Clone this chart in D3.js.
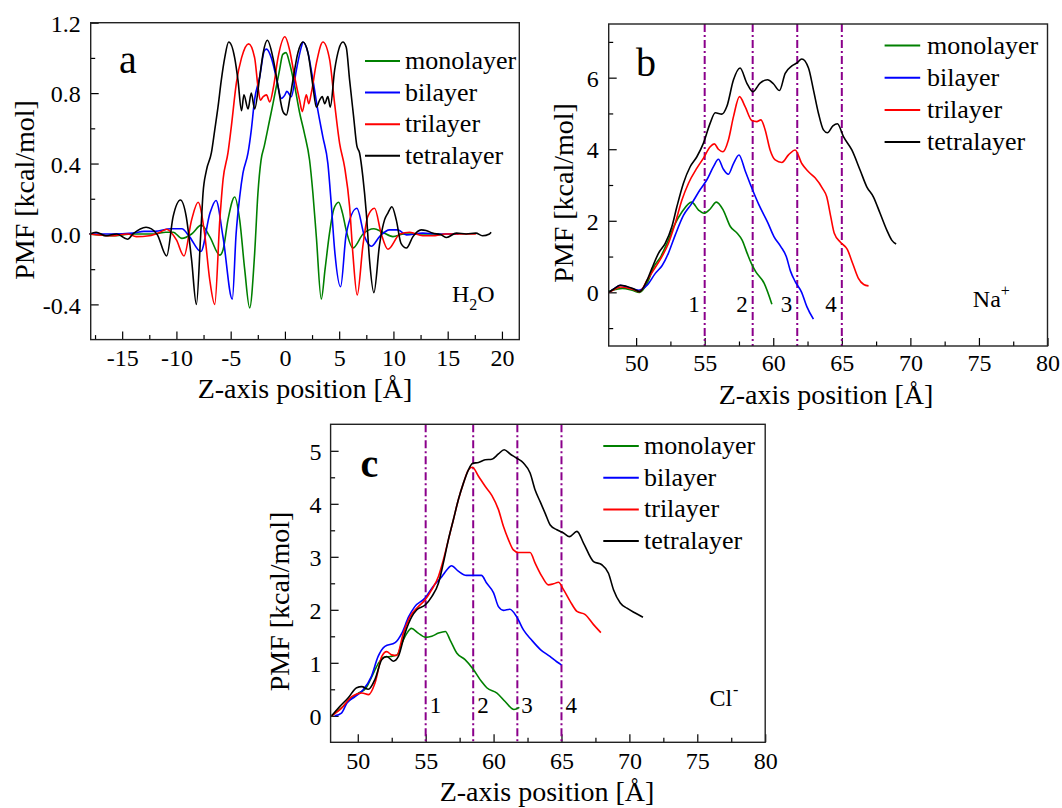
<!DOCTYPE html>
<html><head><meta charset="utf-8">
<script src="https://cdn.jsdelivr.net/npm/d3@7"></script>
<style>
body{margin:0;background:#fff}
svg{display:block}
text{font-family:"Liberation Serif","Times New Roman",serif;fill:#000}
</style>
</head><body>
<svg id="chart" width="1062" height="808"></svg>
<script>
const seriesNames = ["monolayer","bilayer","trilayer","tetralayer"];
const seriesColors = ["#008000","#0000ff","#ff0000","#000000"];

// ---- panel a : H2O ----
const h2oMono = [[-18,0],[-16,-0.01],[-14,0.0],[-12,0.0],[-11,0.01],[-10.3,0.01],[-9.5,-0.025],[-8.6,0.0],[-7.7,0.05],[-6.93,-0.015],[-6.0,-0.12],[-5.7,-0.09],[-5.25,0.08],[-4.63,0.21],[-4.17,0.08],[-3.71,-0.2],[-3.25,-0.42],[-2.79,-0.11],[-2.49,0.23],[-2.2,0.42],[-1.9,0.5],[-1.4,0.65],[-1.1,0.74],[-0.5,0.93],[-0.2,1.02],[0.1,1.03],[0.43,0.97],[0.9,0.84],[1.35,0.69],[1.8,0.57],[2.27,0.42],[2.58,0.23],[2.9,-0.02],[3.35,-0.37],[3.7,-0.2],[4.1,0.0],[4.5,0.14],[4.95,0.18],[5.3,0.12],[5.65,0.02],[6.26,-0.08],[7.2,0.0],[8.2,0.03],[9.0,0.01],[9.95,-0.015],[11,0.0],[12,0.0],[13,0.0],[14.2,0.0]];
const h2oBi = [[-18,0],[-16,0.0],[-14,0.005],[-13,0.015],[-12,0.015],[-10.5,0.03],[-9.5,0.03],[-8.8,-0.015],[-7.75,-0.10],[-6.9,0.12],[-6.35,0.19],[-5.7,-0.02],[-4.85,-0.37],[-4.5,0.0],[-4.17,0.21],[-3.87,0.345],[-3.4,0.46],[-3.1,0.59],[-2.8,0.76],[-2.33,0.89],[-1.9,1.04],[-1.7,1.05],[-1.25,1.0],[-0.8,0.89],[-0.33,0.77],[0,0.79],[0.18,0.81],[0.59,0.78],[1.05,0.93],[1.5,1.06],[1.66,1.09],[2.12,1.03],[2.58,0.875],[3.04,0.70],[3.5,0.55],[3.96,0.40],[4.27,0.17],[4.58,-0.09],[5.13,-0.30],[5.65,0.0],[6.63,0.146],[7.34,-0.015],[7.96,-0.07],[8.72,-0.015],[9.64,0.023],[10.4,0.023],[11.2,-0.005],[12.7,0.005],[14,0.0],[16,0.0]];
const h2oTri = [[-18,0],[-16,-0.01],[-14.5,0.0],[-13.7,-0.015],[-12.5,-0.01],[-11.5,0.01],[-10.9,0.027],[-10,-0.034],[-9.3,-0.125],[-8.6,0.08],[-8.0,0.18],[-7.4,0.0],[-6.93,-0.26],[-6.47,-0.40],[-6.0,0.08],[-5.7,0.31],[-5.25,0.46],[-4.94,0.61],[-4.47,0.86],[-4.0,1.0],[-3.34,1.08],[-2.79,1.0],[-2.49,0.84],[-2.27,0.76],[-2.0,0.78],[-1.7,0.79],[-1.4,0.75],[-1.04,0.84],[-0.64,1.0],[0,1.12],[0.43,1.045],[0.9,0.89],[1.35,0.76],[1.6,0.695],[1.97,0.79],[2.2,0.74],[2.43,0.80],[2.9,0.97],[3.5,1.09],[4.12,0.99],[4.58,0.74],[5.04,0.515],[5.5,0.38],[5.96,0.155],[6.26,-0.11],[6.66,-0.347],[7.2,-0.06],[7.64,0.1],[8.26,0.146],[8.88,0.0],[9.49,-0.087],[10.6,0.0],[11.5,0.01],[12.7,-0.01],[13.6,-0.01],[14.8,0.0],[16,0.0],[17.6,0.0]];
const h2oTetra = [[-18,0],[-17.4,0.01],[-16.5,-0.01],[-15.5,0.0],[-14.5,-0.03],[-14.0,0.0],[-12.8,0.038],[-11.8,0.0],[-10.9,-0.125],[-10.3,0.1],[-9.63,0.193],[-9.1,0.1],[-8.6,-0.148],[-8.16,-0.40],[-7.76,0.0],[-7.55,0.23],[-7.24,0.36],[-6.78,0.46],[-6.47,0.59],[-6.17,0.72],[-5.86,0.875],[-5.55,1.0],[-5.18,1.09],[-4.63,1.0],[-4.33,0.875],[-4.0,0.70],[-3.78,0.79],[-3.4,0.71],[-3.1,0.80],[-2.79,0.71],[-2.33,0.89],[-2.0,1.03],[-1.62,1.10],[-1.1,1.0],[-0.64,0.84],[-0.18,0.695],[0.13,0.676],[0.43,0.76],[0.74,0.875],[1.2,1.03],[1.66,1.09],[2.12,1.03],[2.58,0.84],[2.9,0.72],[3.2,0.76],[3.44,0.78],[3.66,0.74],[3.96,0.78],[4.18,0.72],[4.58,0.93],[4.97,1.05],[5.34,1.09],[5.65,1.06],[5.96,0.875],[6.33,0.667],[6.63,0.50],[6.88,0.46],[7.18,0.326],[7.5,0.12],[7.8,-0.15],[8.2,-0.333],[8.72,-0.06],[9.18,0.08],[9.5,0.12],[9.86,0.155],[10.26,0.08],[10.7,-0.053],[11.2,-0.08],[11.8,-0.015],[12.56,0.023],[13.0,0.02],[13.6,0.005],[14.4,-0.005],[14.9,-0.02],[15.8,0.005],[16.7,0.0],[17.6,0.005],[18.2,-0.01],[18.85,0.0],[19.0,0.01]];

// ---- panel b : Na+ ----
const naMono = [[48,0.03],[48.5,0.08],[49,0.11],[49.7,0.06],[50.25,0.0],[50.8,0.25],[51.3,0.72],[51.8,1.0],[52.25,1.37],[52.75,1.84],[53.35,2.25],[54.05,2.52],[54.55,2.3],[54.95,2.21],[55.4,2.33],[55.85,2.52],[56.35,2.3],[56.87,1.84],[57.37,1.65],[57.73,1.46],[58.1,1.09],[58.4,0.81],[58.72,0.58],[59.34,0.25],[59.9,-0.33]];
const naBi = [[48,0.0],[48.4,0.1],[48.85,0.2],[49.55,0.12],[50.2,0.06],[50.8,0.2],[51.4,0.53],[51.9,0.75],[52.35,1.09],[52.85,1.6],[53.45,2.15],[54.05,2.48],[54.65,2.86],[55.15,3.14],[55.65,3.52],[56.0,3.72],[56.35,3.45],[56.72,3.3],[57.1,3.6],[57.5,3.84],[57.95,3.4],[58.4,2.95],[58.95,2.45],[59.6,1.95],[60.05,1.56],[60.55,1.28],[60.95,1.0],[61.25,0.6],[61.6,0.3],[62.07,0.0],[62.45,-0.4],[62.93,-0.75]];
const naTri = [[48,0.0],[48.4,0.08],[48.85,0.15],[49.8,0.08],[50.25,0.02],[50.8,0.34],[51.27,0.62],[51.88,1.0],[52.36,1.37],[52.85,1.93],[53.34,2.58],[53.82,3.05],[54.43,3.47],[54.91,3.75],[55.4,4.07],[55.7,4.15],[56.0,4.0],[56.33,3.93],[56.73,4.26],[57.1,4.91],[57.54,5.47],[57.95,5.19],[58.44,4.8],[58.8,4.77],[59.1,4.82],[59.41,4.54],[59.77,3.98],[60.14,3.7],[60.63,3.63],[61.11,3.84],[61.6,3.98],[62.08,3.6],[62.57,3.37],[63.05,3.2],[63.6,2.9],[63.9,2.67],[64.2,2.1],[64.45,1.65],[64.9,1.4],[65.4,1.2],[65.8,0.8],[66.2,0.4],[66.6,0.22],[66.95,0.18]];
const naTetra = [[48,0.0],[48.4,0.1],[48.85,0.2],[49.8,0.1],[50.25,0.02],[50.8,0.34],[51.15,0.67],[51.63,1.09],[52.12,1.37],[52.61,1.84],[52.97,2.39],[53.45,3.05],[53.94,3.51],[54.43,3.79],[54.91,4.17],[55.4,4.73],[55.77,5.02],[56.25,4.98],[56.62,5.2],[57.1,5.94],[57.58,6.27],[58.07,5.85],[58.51,5.61],[59.04,5.85],[59.58,5.94],[60.01,5.83],[60.45,5.64],[60.87,6.12],[61.36,6.33],[61.72,6.41],[62.08,6.52],[62.57,6.27],[62.93,5.66],[63.3,5.0],[63.66,4.54],[63.95,4.46],[64.35,4.65],[64.68,4.71],[65.12,4.35],[65.73,3.98],[66.33,3.42],[66.82,2.95],[67.3,2.67],[67.79,2.21],[68.28,1.74],[68.64,1.46],[68.96,1.35]];

// ---- panel c : Cl- ----
const clMono = [[48.05,0],[48.8,0.15],[49.4,0.3],[50.0,0.42],[50.6,0.52],[51.0,0.72],[51.5,0.98],[51.9,1.1],[52.4,1.12],[52.9,1.15],[53.25,1.37],[53.6,1.55],[53.95,1.65],[54.45,1.56],[55.0,1.48],[55.45,1.5],[55.95,1.56],[56.45,1.59],[56.8,1.43],[57.3,1.18],[57.9,1.06],[58.5,0.88],[59.1,0.65],[59.5,0.53],[60.25,0.43],[60.85,0.27],[61.5,0.12],[61.9,0.16]];
const clBi = [[48.3,0.0],[48.8,0.05],[49.2,0.24],[49.8,0.36],[50.4,0.49],[51.0,0.74],[51.5,1.12],[52.0,1.31],[52.75,1.38],[53.25,1.56],[53.75,1.87],[54.2,2.06],[54.95,2.22],[55.55,2.44],[56.2,2.63],[56.55,2.75],[56.9,2.83],[57.4,2.73],[58.0,2.65],[59.1,2.65],[59.5,2.5],[60.0,2.32],[60.36,2.06],[60.73,1.99],[61.2,2.01],[61.7,1.87],[62.2,1.62],[62.8,1.43],[63.45,1.25],[64.15,1.12],[64.65,1.02],[65.0,0.96]];
const clTri = [[48.08,0],[48.8,0.145],[49.55,0.36],[50.3,0.43],[50.8,0.40],[51.27,0.62],[51.77,1.12],[52.13,1.21],[52.5,1.15],[52.87,1.14],[53.36,1.56],[53.85,1.87],[54.46,2.06],[54.96,2.19],[55.45,2.38],[55.94,2.63],[56.3,2.94],[56.67,3.32],[57.04,3.7],[57.41,4.08],[57.78,4.39],[58.15,4.64],[58.44,4.69],[58.89,4.52],[59.38,4.33],[59.87,4.16],[60.36,3.89],[60.73,3.57],[61.1,3.32],[61.46,3.13],[61.83,3.08],[62.69,3.08],[63.06,2.88],[63.56,2.63],[64.04,2.47],[64.41,2.49],[64.78,2.52],[65.15,2.38],[65.64,2.16],[66.14,1.97],[66.75,1.91],[67.36,1.72],[67.9,1.57]];
const clTetra = [[48.08,0],[48.69,0.18],[49.3,0.34],[49.92,0.53],[50.29,0.55],[50.78,0.50],[51.27,0.69],[51.77,1.06],[52.13,1.12],[52.62,1.03],[52.99,1.12],[53.48,1.56],[53.98,1.87],[54.35,2.0],[54.96,2.09],[55.45,2.25],[55.94,2.5],[56.3,2.88],[56.67,3.32],[57.04,3.7],[57.41,4.08],[57.78,4.39],[58.15,4.64],[58.44,4.76],[58.89,4.78],[59.38,4.83],[59.87,4.84],[60.36,4.94],[60.78,5.02],[61.22,4.94],[61.71,4.86],[62.2,4.77],[62.69,4.58],[63.06,4.26],[63.43,4.04],[63.8,3.82],[64.17,3.6],[64.66,3.51],[65.15,3.45],[65.59,3.38],[66.14,3.48],[66.62,3.26],[67.36,2.91],[67.97,2.85],[68.46,2.69],[68.83,2.38],[69.33,2.13],[69.82,2.03],[70.43,1.94],[71.0,1.86]];

const layerLines = [55, 58.5, 61.75, 65];
const layerLabels = ["1","2","3","4"];

const aXTicks = [-15,-10,-5,0,5,10,15,20];
const aXMinor = [-17.5,-12.5,-7.5,-2.5,2.5,7.5,12.5,17.5];
const aYTicks = [-0.4,0.0,0.4,0.8,1.2];
const aYMinor = [-0.6,-0.2,0.2,0.6,1.0];
const bcXTicks = [50,55,60,65,70,75,80];
const bcXMinor = [52.5,57.5,62.5,67.5,72.5,77.5];
const bYTicks = [0,2,4,6];
const bYMinor = [-1,1,3,5,7];
const cYTicks = [0,1,2,3,4,5];
const cYMinor = [-0.5,0.5,1.5,2.5,3.5,4.5,5.5];

const xTitle = "Z-axis position [Å]";
const yTitle = "PMF [kcal/mol]";

const svg = d3.select("#chart");
const FONT = '"Liberation Serif","Times New Roman",serif';
const hyphen = f => (d => f(d).replace("\u2212","-"));

function drawPanel(p){
  const g = svg.append("g");
  const x = d3.scaleLinear().domain(p.xDom).range([p.box.l, p.box.r]);
  const y = d3.scaleLinear().domain(p.yDom).range([p.box.b, p.box.t]);

  // minor ticks
  g.append("g").attr("transform",`translate(0,${p.box.b})`)
    .call(d3.axisBottom(x).tickValues(p.xMinor).tickSizeInner(-4.5).tickSizeOuter(0).tickFormat(""))
    .call(a=>a.select(".domain").remove());
  g.append("g").attr("transform",`translate(${p.box.l},0)`)
    .call(d3.axisLeft(y).tickValues(p.yMinor.filter(v=>v>p.yDom[0]&&v<p.yDom[1])).tickSizeInner(-4.5).tickSizeOuter(0).tickFormat(""))
    .call(a=>a.select(".domain").remove());
  // major ticks
  const xa = g.append("g").attr("transform",`translate(0,${p.box.b})`)
    .call(d3.axisBottom(x).tickValues(p.xTicks).tickSizeInner(-8).tickSizeOuter(0).tickPadding(p.xPad).tickFormat(hyphen(d3.format("d"))));
  xa.select(".domain").remove();
  xa.selectAll("text").attr("font-family",FONT).attr("font-size",24).attr("fill","#000");
  const ya = g.append("g").attr("transform",`translate(${p.box.l},0)`)
    .call(d3.axisLeft(y).tickValues(p.yTicks).tickSizeInner(-8).tickSizeOuter(0).tickPadding(p.yPad).tickFormat(hyphen(p.yFmt)));
  ya.select(".domain").remove();
  ya.selectAll("text").attr("font-family",FONT).attr("font-size",24).attr("fill","#000").attr("dy","0.36em");
  g.selectAll(".tick line").attr("stroke","#000").attr("stroke-width",1.2);

  // dash-dot layer lines
  if(p.layers){
    g.selectAll(".layer").data(layerLines).join("line")
      .attr("x1",d=>x(d)).attr("x2",d=>x(d)).attr("y1",p.box.t).attr("y2",p.box.b)
      .attr("stroke","#8b008b").attr("stroke-width",2).attr("stroke-dasharray","8,3,2,3");
    g.selectAll(".layerlab").data(layerLabels).join("text")
      .attr("x",(d,i)=>x(layerLines[i]) + p.layerDx)
      .attr("y",p.layerY).attr("text-anchor",p.layerAnchor)
      .attr("font-size",23).text(d=>d);
  }

  // curves
  const line = d3.line().x(d=>x(d[0])).y(d=>y(d[1])).curve(d3.curveMonotoneX);
  p.series.forEach((s,i)=>{
    g.append("path").attr("d",line(s)).attr("fill","none")
      .attr("stroke",seriesColors[i]).attr("stroke-width",1.6).attr("stroke-linejoin","round");
  });

  // frame
  g.append("rect").attr("x",p.box.l).attr("y",p.box.t)
    .attr("width",p.box.r-p.box.l).attr("height",p.box.b-p.box.t)
    .attr("fill","none").attr("stroke","#222").attr("stroke-width",1.4);

  // legend
  seriesNames.forEach((n,i)=>{
    const ly = p.leg.y0 + i*p.leg.dy;
    g.append("line").attr("x1",p.leg.x1).attr("x2",p.leg.x2).attr("y1",ly).attr("y2",ly)
      .attr("stroke",seriesColors[i]).attr("stroke-width",2);
    g.append("text").attr("x",p.leg.tx).attr("y",ly+8).attr("font-size",26).text(n);
  });

  // panel letter
  g.append("text").attr("x",p.lab.x).attr("y",p.lab.y).attr("font-size",40)
    .attr("font-weight",p.lab.bold?"bold":"normal").text(p.lab.t);

  // species
  const sp = g.append("text").attr("x",p.sp.x).attr("y",p.sp.y).attr("font-size",24);
  p.sp.parts.forEach(pt=>{
    sp.append("tspan").attr("font-size",pt.fs).attr("dy",pt.dy).attr("dx",pt.dx||0).text(pt.t);
  });

  // axis titles
  g.append("text").attr("x",p.xt.x).attr("y",p.xt.y).attr("text-anchor","middle")
    .attr("font-size",28).text(xTitle);
  g.append("text").attr("transform",`translate(${p.yt.x},${p.yt.y}) rotate(-90)`)
    .attr("text-anchor","middle").attr("font-size",28).text(yTitle);
}

drawPanel({
  box:{l:90.7,t:22.7,r:519.3,b:339.6}, xDom:[-17.9,21.6], yDom:[-0.6,1.2],
  xTicks:aXTicks, xMinor:aXMinor, yTicks:aYTicks, yMinor:aYMinor, yFmt:d3.format(".1f"),
  xPad:9, yPad:10,
  series:[h2oMono,h2oBi,h2oTri,h2oTetra],
  leg:{x1:365,x2:400,tx:405,y0:61,dy:31.6},
  lab:{x:119,y:73,t:"a"},
  sp:{x:452,y:302,parts:[{t:"H",fs:24,dy:0},{t:"2",fs:16,dy:8},{t:"O",fs:24,dy:-8}]},
  xt:{x:305,y:398}, yt:{x:34,y:190}
});
drawPanel({
  box:{l:608.7,t:24,r:1047.5,b:346}, xDom:[48,80], yDom:[-1.5,7.5],
  xTicks:bcXTicks, xMinor:bcXMinor, yTicks:bYTicks, yMinor:bYMinor, yFmt:d3.format("d"),
  xPad:8, yPad:10,
  series:[naMono,naBi,naTri,naTetra],
  layers:true, layerDx:-5, layerY:311.5, layerAnchor:"end",
  leg:{x1:884.6,x2:920.2,tx:927,y0:45.5,dy:32.2},
  lab:{x:636,y:76,t:"b"},
  sp:{x:972.8,y:306.7,parts:[{t:"Na",fs:24,dy:0},{t:"+",fs:16,dy:-11}]},
  xt:{x:826,y:404}, yt:{x:573,y:193}
});
drawPanel({
  box:{l:330.6,t:424.3,r:765.2,b:742.3}, xDom:[48,80], yDom:[-0.5,5.5],
  xTicks:bcXTicks, xMinor:bcXMinor, yTicks:cYTicks, yMinor:cYMinor, yFmt:d3.format("d"),
  xPad:10, yPad:9,
  series:[clMono,clBi,clTri,clTetra],
  layers:true, layerDx:4, layerY:712.5, layerAnchor:"start",
  leg:{x1:603.3,x2:638.8,tx:644,y0:446,dy:31.7},
  lab:{x:360.6,y:476.7,t:"c",bold:true},
  sp:{x:709.4,y:706,parts:[{t:"Cl",fs:24,dy:0},{t:"-",fs:16,dy:-11,dx:1}]},
  xt:{x:547,y:801}, yt:{x:289,y:601.5}
});
</script>
</body></html>
